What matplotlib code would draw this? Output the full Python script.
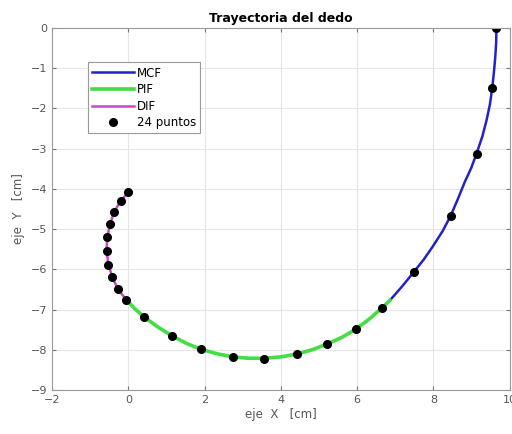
import matplotlib.pyplot as plt

# puntos medidos sobre la trayectoria (24 puntos)
pts_x = [9.65, 9.54, 9.13, 8.45, 7.49, 6.64, 5.96, 5.21, 4.41, 3.56, 2.75, 1.91,
         1.14, 0.42, -0.06, -0.27, -0.42, -0.52, -0.57, -0.55, -0.48, -0.37, -0.20, 0.00]
pts_y = [0.00, -1.50, -3.12, -4.67, -6.06, -6.97, -7.49, -7.86, -8.11, -8.22, -8.18, -7.99,
         -7.65, -7.19, -6.75, -6.49, -6.20, -5.88, -5.54, -5.20, -4.88, -4.57, -4.30, -4.08]

# tramos de la curva
mcf_x = [9.65, 9.645, 9.62, 9.585, 9.54, 9.48, 9.39, 9.28, 9.13, 8.99, 8.82, 8.64,
         8.45, 8.24, 7.99, 7.75, 7.49, 7.20, 6.86]
mcf_y = [0.00, -0.35, -0.72, -1.10, -1.50, -1.90, -2.30, -2.70, -3.12, -3.48, -3.83, -4.25,
         -4.67, -5.05, -5.42, -5.75, -6.06, -6.40, -6.77]
pif_x = [6.86, 6.64, 6.30, 5.96, 5.60, 5.21, 4.82, 4.41, 3.98, 3.56, 3.15, 2.75, 2.33,
         1.91, 1.52, 1.14, 0.77, 0.42, 0.16, -0.06]
pif_y = [-6.77, -6.97, -7.25, -7.49, -7.69, -7.86, -8.00, -8.11, -8.18, -8.21, -8.21, -8.18,
         -8.10, -7.99, -7.84, -7.65, -7.43, -7.19, -6.97, -6.75]
dif_x = [-0.06, -0.27, -0.42, -0.52, -0.57, -0.55, -0.48, -0.37, -0.20, 0.00]
dif_y = [-6.75, -6.49, -6.20, -5.88, -5.54, -5.20, -4.88, -4.57, -4.30, -4.08]

fig = plt.figure(figsize=(5.12, 4.34), dpi=100)
ax = fig.add_axes([0.1016, 0.1014, 0.894, 0.834])

ax.plot(mcf_x, mcf_y, color='#2222c8', lw=1.8, label='MCF')
ax.plot(pif_x, pif_y, color='#44dd44', lw=2.6, label='PIF')
ax.plot(dif_x, dif_y, color='#cc44cc', lw=1.8, label='DIF')
ax.plot(pts_x, pts_y, 'o', color='black', ms=5.5, label='24 puntos')

ax.set_xlim(-2, 10)
ax.set_ylim(-9, 0)
ax.set_xticks(range(-2, 11, 2))
ax.set_yticks(range(-9, 1, 1))
ax.grid(True, color='#e6e6e6', lw=0.8)
ax.set_axisbelow(True)
ax.tick_params(direction='in', top=True, right=True, labelsize=8,
               colors='#777777', labelcolor='#555555', length=3)
for s in ax.spines.values():
    s.set_color('#999999')

ax.set_title('Trayectoria del dedo', fontsize=9, fontweight='bold', pad=4)
ax.set_xlabel('eje  X   [cm]', fontsize=8.5, color='#555555', labelpad=2)
ax.set_ylabel('eje  Y   [cm]', fontsize=8.5, color='#555555', labelpad=4)

leg = ax.legend(loc='upper left', bbox_to_anchor=(0.078, 0.905), fontsize=8.5,
                fancybox=False, framealpha=1, edgecolor='#999999',
                handlelength=3.6, handletextpad=0.2, borderpad=0.35,
                labelspacing=0.3, borderaxespad=0)
leg.get_frame().set_linewidth(0.8)

fig.savefig('out.png', dpi=100)
